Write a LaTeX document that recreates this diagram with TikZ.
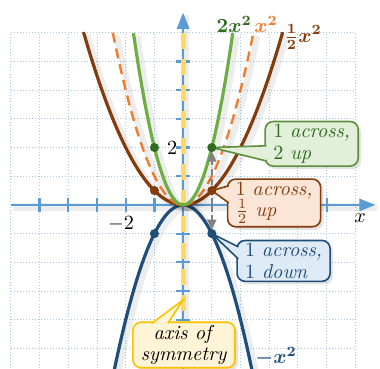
\documentclass[tikz,border=0pt]{standalone}
\usepackage{amsmath}
\usepackage{xcolor}
\usepackage{tikz}
\usetikzlibrary{arrows.meta,shadows}

\definecolor{axblue}{HTML}{5B9BD5}
\definecolor{gridblue}{HTML}{A9C8E8}
\definecolor{symyel}{HTML}{FFD966}
\definecolor{pgreen}{HTML}{70AD47}
\definecolor{dgreen}{HTML}{2F6A1F}
\definecolor{porange}{HTML}{ED7D31}
\definecolor{pbrown}{HTML}{843C0C}
\definecolor{pblue}{HTML}{1F4E79}
\definecolor{gfill}{HTML}{E2F0D9}
\definecolor{gedge}{HTML}{5E8F3E}
\definecolor{bfill}{HTML}{FBE5D6}
\definecolor{nfill}{HTML}{DEEBF7}
\definecolor{yfill}{HTML}{FFF4D6}
\definecolor{yedge}{HTML}{FFC000}

\begin{document}
\begin{tikzpicture}[
  x=0.5cm, y=0.5cm,
  font=\normalsize,
  axis/.style={axblue, line width=1.3pt, -{Triangle[length=8pt,width=6pt]},
               preaction={-, draw=black, opacity=0.07, line width=4pt,
                          transform canvas={xshift=1pt,yshift=-1pt}}},
  tick/.style={axblue, line width=1.1pt},
  curve/.style={line width=1.6pt,
                preaction={draw=black, opacity=0.07, line width=3pt, solid,
                           transform canvas={xshift=2pt,yshift=-1.5pt}}},
  dot/.style={circle, inner sep=0pt, minimum size=4.5pt},
  note/.style={rectangle, rounded corners=4pt, draw, line width=0.8pt,
               outer sep=0pt, align=left, inner xsep=4pt, inner ysep=1.5pt,
               font=\fontsize{10}{10.5}\selectfont,
               drop shadow={opacity=0.22, shadow xshift=1.5pt, shadow yshift=-1.5pt}},
  ptr/.style={line width=0.8pt},
  garr/.style={gray, line width=1pt, dash pattern=on 3pt off 2pt,
               -{Triangle[length=5pt,width=4.5pt]}},
  lbl/.style={font=\boldmath\bfseries},
]

\useasboundingbox (-6.38,-5.71) rectangle (6.86,7.14);
\clip (-6.38,-5.71) rectangle (6.86,7.14);

% grid
\draw[gridblue, line width=0.5pt, densely dotted, step=1] (-6,-6) grid (6,6);

% axes and ticks
\draw[axis] (-6,0) -- (6.7,0);
\draw[axis] (0,-6) -- (0,6.7);
\foreach \i in {-5,...,-1,2,3,4,5} {
  \draw[tick] (\i,-0.25) -- (\i,0.25);
  \draw[tick] (-0.25,\i) -- (0.25,\i);
}
\draw[tick] (-0.25,1) -- (0.25,1);
\draw[tick] (-0.25,-1) -- (0.25,-1);
\draw[gray, line width=1.1pt] (1,-0.25) -- (1,0.25);

% axis of symmetry
\draw[symyel, line width=2.5pt, dash pattern=on 8pt off 5pt] (0,6) -- (0,-6);

\node (xlbl) at (6.17,-0.45) {$x$};
\node (ytwo) at (-0.38,2) {$2$};
\node (xtwo) at (-2.16,-0.66) {$-2$};

% key points
\coordinate (one) at (1,0);
\coordinate (pg) at (1,2);
\coordinate (pn) at (1,-1);
\coordinate (ph) at (1,0.5);
\coordinate (psym) at (0,-3.31);

% parabolas
\draw[curve, pblue] plot[domain=-2.46:2.46, samples=60, smooth] (\x,{-\x*\x});
\draw[curve, pbrown] plot[domain=-3.47:3.47, samples=60, smooth] (\x,{0.5*\x*\x});
\draw[curve, porange, line width=1.2pt, dash pattern=on 5pt off 3pt]
  plot[domain=-2.45:2.45, samples=60, smooth] (\x,{\x*\x});
\draw[curve, pgreen] plot[domain=-1.73:1.73, samples=60, smooth] (\x,{2*\x*\x});

% curve labels
\node[lbl, dgreen] (l2x) at (1.78,6.3) {$2x^2$};
\node[lbl, porange] (l1x) at (2.89,6.3) {$x^2$};
\node[lbl, pbrown] (lhx) at (4.18,5.85) {$\frac{1}{2}x^2$};
\node[lbl, pblue] (lnx) at (3.24,-5.3) {$-x^2$};

% moves from (1,0)
\draw[garr, shorten >=2pt] (one) -- (pg);
\draw[garr, shorten >=2pt] (one) -- (pn);

% callouts
\node[note, draw=gedge, fill=gfill, text=dgreen] (gnote) at (4.48,2.13)
  {1 \textit{across,}\\2 \textit{up}};
\path[ptr, draw=gedge, fill=gfill] ([xshift=0.6pt,yshift=-1pt]gnote.west)
  -- (pg) -- ([xshift=0.6pt,yshift=-8.5pt]gnote.west);

\node[note, draw=pbrown, fill=bfill, text=pbrown] (bnote) at (3.17,0.07)
  {1 \textit{across,}\\$\frac{1}{2}$ \textit{up}};
\path[ptr, draw=pbrown, fill=bfill] ([xshift=0.6pt,yshift=8.5pt]bnote.west)
  -- (ph) -- ([xshift=0.6pt,yshift=0pt]bnote.west);

\node[note, draw=pblue, fill=nfill, text=pblue] (nnote) at (3.5,-1.95)
  {1 \textit{across,}\\1 \textit{down}};
\path[ptr, draw=pblue, fill=nfill] ([xshift=0.6pt,yshift=7pt]nnote.west)
  -- (pn) -- ([xshift=0.6pt,yshift=1pt]nnote.west);

\node[note, draw=yedge, fill=yfill, align=center] (ynote) at (0.03,-4.88)
  {\textit{axis of}\\\textit{symmetry}};
\path[ptr, draw=yedge, fill=yfill] ([xshift=-16pt,yshift=-0.6pt]ynote.north)
  -- (psym) -- ([xshift=-8pt,yshift=-0.6pt]ynote.north);

% dots
\node[dot, fill=dgreen] (g1) at (pg) {};
\node[dot, fill=dgreen] (g0) at (-1,2) {};
\node[dot, fill=pbrown] (h1) at (ph) {};
\node[dot, fill=pbrown] (h0) at (-1,0.5) {};
\node[dot, fill=pblue] (n1) at (pn) {};
\node[dot, fill=pblue] (n0) at (-1,-1) {};

\end{tikzpicture}
\end{document}
